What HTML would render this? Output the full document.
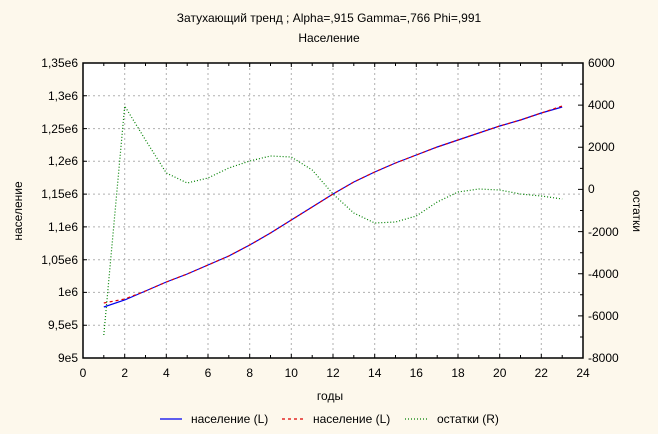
<!DOCTYPE html>
<html><head><meta charset="utf-8"><style>
body{margin:0;background:#fdf8ec;}
svg{display:block;font-family:"Liberation Sans",sans-serif;font-size:12px;}
</style></head><body>
<svg width="658" height="434" viewBox="0 0 658 434">
<rect width="658" height="434" fill="#fdf8ec"/>
<text x="329" y="22" text-anchor="middle">Затухающий тренд ; Alpha=,915 Gamma=,766 Phi=,991</text>
<text x="329" y="42" text-anchor="middle">Население</text>
<rect x="83" y="63" width="500" height="295" fill="#fff"/>
<g stroke="#b0b0b0" stroke-dasharray="2,3" stroke-width="1">
<line x1="124.7" y1="63" x2="124.7" y2="358"/><line x1="166.3" y1="63" x2="166.3" y2="358"/>
<line x1="208" y1="63" x2="208" y2="358"/><line x1="249.7" y1="63" x2="249.7" y2="358"/>
<line x1="291.3" y1="63" x2="291.3" y2="358"/><line x1="333" y1="63" x2="333" y2="358"/>
<line x1="374.7" y1="63" x2="374.7" y2="358"/><line x1="416.3" y1="63" x2="416.3" y2="358"/>
<line x1="458" y1="63" x2="458" y2="358"/><line x1="499.7" y1="63" x2="499.7" y2="358"/>
<line x1="541.3" y1="63" x2="541.3" y2="358"/>
<line x1="83" y1="95.8" x2="583" y2="95.8"/><line x1="83" y1="128.6" x2="583" y2="128.6"/>
<line x1="83" y1="161.3" x2="583" y2="161.3"/><line x1="83" y1="194.1" x2="583" y2="194.1"/>
<line x1="83" y1="226.9" x2="583" y2="226.9"/><line x1="83" y1="259.7" x2="583" y2="259.7"/>
<line x1="83" y1="292.4" x2="583" y2="292.4"/><line x1="83" y1="325.2" x2="583" y2="325.2"/>
</g>
<rect x="83" y="63" width="500" height="295" fill="none" stroke="#000" stroke-width="1.5"/>
<g stroke="#000" stroke-width="1">
<path d="M83 63h4M83 95.8h4M83 128.6h4M83 161.3h4M83 194.1h4M83 226.9h4M83 259.7h4M83 292.4h4M83 325.2h4
M583 63h-5M583 105.1h-5M583 147.3h-5M583 189.4h-5M583 231.6h-5M583 273.7h-5M583 315.9h-5
M583 84.1h-3M583 126.2h-3M583 168.4h-3M583 210.5h-3M583 252.7h-3M583 294.8h-3M583 337h-3
M103.8 358v-3M124.7 358v-4M145.5 358v-3M166.3 358v-4M187.2 358v-3M208 358v-4M228.8 358v-3M249.7 358v-4M270.5 358v-3M291.3 358v-4M312.2 358v-3M333 358v-4M353.8 358v-3M374.7 358v-4M395.5 358v-3M416.3 358v-4M437.2 358v-3M458 358v-4M478.8 358v-3M499.7 358v-4M520.5 358v-3M541.3 358v-4M562.2 358v-3
M103.8 63v3M124.7 63v4M145.5 63v3M166.3 63v4M187.2 63v3M208 63v4M228.8 63v3M249.7 63v4M270.5 63v3M291.3 63v4M312.2 63v3M333 63v4M353.8 63v3M374.7 63v4M395.5 63v3M416.3 63v4M437.2 63v3M458 63v4M478.8 63v3M499.7 63v4M520.5 63v3M541.3 63v4M562.2 63v3"/>
</g>
<g text-anchor="end">
<text x="78" y="67">1,35e6</text><text x="78" y="100">1,3e6</text><text x="78" y="133">1,25e6</text>
<text x="78" y="165">1,2e6</text><text x="78" y="198">1,15e6</text><text x="78" y="231">1,1e6</text>
<text x="78" y="264">1,05e6</text><text x="78" y="296">1e6</text><text x="78" y="329">9,5e5</text><text x="78" y="362">9e5</text>
</g>
<g>
<text x="588" y="67">6000</text><text x="588" y="109">4000</text><text x="588" y="151">2000</text>
<text x="588" y="193">0</text><text x="588" y="236">-2000</text><text x="588" y="278">-4000</text>
<text x="588" y="320">-6000</text><text x="588" y="362">-8000</text>
</g>
<g text-anchor="middle">
<text x="83" y="377">0</text><text x="124.7" y="377">2</text><text x="166.3" y="377">4</text><text x="208" y="377">6</text>
<text x="249.7" y="377">8</text><text x="291.3" y="377">10</text><text x="333" y="377">12</text><text x="374.7" y="377">14</text>
<text x="416.3" y="377">16</text><text x="458" y="377">18</text><text x="499.7" y="377">20</text><text x="541.3" y="377">22</text><text x="583" y="377">24</text>
<text x="330" y="400">годы</text>
</g>
<text transform="translate(22,211) rotate(-90)" text-anchor="middle">население</text>
<text transform="translate(633,211) rotate(90)" text-anchor="middle">остатки</text>
<polyline fill="none" stroke="#0000ee" stroke-width="1.2" points="103.8,307 124.7,300 145.5,291 166.3,282 187.2,274 208,265 228.8,256 249.7,245 270.5,233 291.3,220 312.2,207 333,194 353.8,182 374.7,172 395.5,163 416.3,155 437.2,147 458,140 478.8,133 499.7,126 520.5,120 541.3,113 562.2,107"/>
<polyline fill="none" stroke="#e00000" stroke-width="1.2" stroke-dasharray="3,3" points="103.8,303 124.7,299 145.5,291 166.3,282 187.2,274 208,265 228.8,256 249.7,245 270.5,233 291.3,220 312.2,207 333,194 353.8,182 374.7,172 395.5,163 416.3,155 437.2,147 458,140 478.8,133 499.7,126 520.5,120 541.3,113 562.2,106"/>
<polyline fill="none" stroke="#008000" stroke-width="1.2" stroke-dasharray="1,2" points="103.8,335 124.7,106 145.5,140 166.3,173 187.2,183 208,178 228.8,168 249.7,161 270.5,156 291.3,157 312.2,170 333,194 353.8,213 374.7,223 395.5,222 416.3,216 437.2,202 458,192 478.8,189 499.7,190 520.5,194 541.3,196 562.2,199"/>
<line x1="160" y1="419" x2="182" y2="419" stroke="#0000ee" stroke-width="1.2"/>
<text x="191" y="423">население (L)</text>
<line x1="282" y1="419" x2="303" y2="419" stroke="#e00000" stroke-width="1.2" stroke-dasharray="3,3"/>
<text x="313" y="423">население (L)</text>
<line x1="405" y1="419" x2="428" y2="419" stroke="#008000" stroke-width="1.2" stroke-dasharray="1,2"/>
<text x="437" y="423">остатки (R)</text>
</svg>
</body></html>
